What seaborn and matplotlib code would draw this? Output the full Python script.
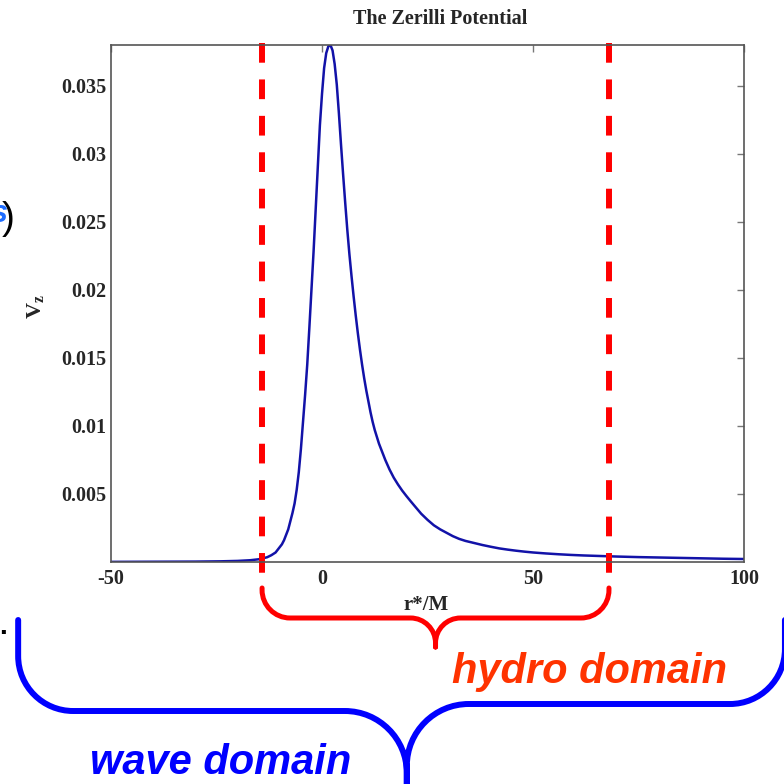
import pandas as pd
import matplotlib
matplotlib.use("Agg")
import matplotlib.pyplot as plt
import seaborn as sns
from matplotlib.path import Path
from matplotlib.patches import PathPatch
from matplotlib import transforms

# -------------------------------
# Data
# -------------------------------
r_star = [-50, -40, -30, -24, -20, -17, -15, -14, -13, -12, -11, -10.5, -10,
          -9.5, -9, -8.5, -8, -7.5, -7, -6.5, -6, -5.5,
          -5, -4.5, -4, -3.5, -3, -2.5, -2, -1.5, -1, -0.5, 0, 0.5, 1, 1.5,
          2, 2.5, 3, 3.5, 4, 4.5, 5, 5.5, 6, 6.5, 7, 7.5, 8, 8.5, 9, 9.5,
          10, 10.5, 11, 11.5, 12, 12.5, 13, 13.5, 14, 15, 16, 17, 18, 19,
          20, 21, 22, 23.5, 25, 26.5, 28, 29.5, 31, 32.5, 34, 36, 38, 40,
          42, 44, 46, 48, 50, 53, 56, 59, 62, 66, 70, 75, 80, 85, 90, 95,
          100]
v_z = [0.00001, 0.00002, 0.00003, 0.00005, 0.00008, 0.00013, 0.0002,
       0.00027, 0.00035, 0.0005, 0.0007, 0.0009, 0.0011,
       0.0013, 0.0016, 0.0020, 0.0024, 0.0030, 0.0036, 0.0043, 0.0053,
       0.0066,
       0.0083, 0.0103, 0.0123, 0.0145, 0.0172, 0.0200, 0.0228, 0.0259,
       0.0290, 0.0321, 0.0344, 0.0363, 0.0374, 0.0379,
       0.0380, 0.0376, 0.0366, 0.0351, 0.0330, 0.0307, 0.0285, 0.0264,
       0.0244, 0.0226, 0.0210, 0.0195, 0.0181, 0.0168, 0.0156, 0.0145,
       0.0135, 0.0126, 0.0118, 0.0110, 0.0103, 0.0097, 0.0092, 0.0087,
       0.0083, 0.0075, 0.0068, 0.0062, 0.0057, 0.00525,
       0.00485, 0.00447, 0.0041, 0.00355, 0.0031, 0.0027, 0.0024, 0.00215,
       0.0019, 0.0017, 0.00155, 0.0014, 0.00125, 0.00112,
       0.0010, 0.00091, 0.00083, 0.00076, 0.0007, 0.00063, 0.00057,
       0.00052, 0.00048, 0.00044, 0.0004, 0.00036, 0.00033, 0.0003,
       0.00027, 0.00024, 0.00022]

x_ticks = [-50, 0, 50, 100]
x_tick_labels = ["-50", "0", "50", "100"]
y_ticks = [0.005, 0.01, 0.015, 0.02, 0.025, 0.03, 0.035]
y_tick_labels = ["0.005", "0.01", "0.015", "0.02", "0.025", "0.03", "0.035"]

hydro_domain = [-14.2, 68.0]
hydro_tip = 26.9
wave_domain = [-72.0, 109.7]
wave_tip = 20.1

# -------------------------------
# Setup
# -------------------------------
sns.set_style("white")
plt.rcParams["font.family"] = ["Liberation Serif", "DejaVu Serif"]
plt.rcParams["mathtext.fontset"] = "custom"
plt.rcParams["mathtext.rm"] = "Liberation Serif:bold"
plt.rcParams["mathtext.bf"] = "Liberation Serif:bold"
plt.rcParams["mathtext.it"] = "Liberation Serif:bold"

W = H = 784
fig = plt.figure(figsize=(7.84, 7.84), dpi=100)
ax = fig.add_axes([111 / W, 1 - 562 / H, (744 - 111) / W, (562 - 45) / H])

# -------------------------------
# Potential curve
# -------------------------------
df = pd.DataFrame({"r": r_star, "V": v_z})
sns.lineplot(data=df, x="r", y="V", ax=ax, color="#1212a8", lw=1.8,
             estimator=None, sort=False)

ax.set_xlim(-50, 100)
ax.set_ylim(0, 0.038)
ax.set_xticks(x_ticks)
ax.set_xticklabels(x_tick_labels, fontsize=14.5, fontweight="bold")
ax.set_yticks(y_ticks)
ax.set_yticklabels(y_tick_labels, fontsize=14.5, fontweight="bold")
ax.set_xlabel("")
ax.set_ylabel("")
ax.tick_params(axis="both", direction="in", length=5, width=1, color="#777777",
               top=True, right=True)
ax.tick_params(axis="x", pad=5)
ax.tick_params(axis="y", pad=3.5)
for sp in ax.spines.values():
    sp.set_color("#555555")
    sp.set_linewidth(1.2)

# red dashed domain boundaries
trans = transforms.blended_transform_factory(ax.transData, ax.transAxes)
y_top_ax = (562 - 42.7) / 517
y_bot_ax = (562 - 585) / 517
for xb in hydro_domain:
    ax.plot([xb, xb], [y_top_ax, y_bot_ax], transform=trans, color="#ff0000",
            lw=4.3, dashes=(3.3, 2.8), clip_on=False, dash_capstyle="butt")

# -------------------------------
# Curly braces (pixel space)
# -------------------------------
def brace(xl, xr, xc, y_top, yh_l, yh_r, r_end, r_mid, y_cusp):
    k = 0.5523
    pts = [
        (Path.MOVETO, (xl, y_top)),
        (Path.LINETO, (xl, yh_l - r_end)),
        (Path.CURVE4, (xl, yh_l - r_end + k * r_end)),
        (Path.CURVE4, (xl + r_end - k * r_end, yh_l)),
        (Path.CURVE4, (xl + r_end, yh_l)),
        (Path.LINETO, (xc - r_mid, yh_l)),
        (Path.CURVE4, (xc - r_mid + k * r_mid, yh_l)),
        (Path.CURVE4, (xc, yh_l + r_mid - k * r_mid)),
        (Path.CURVE4, (xc, yh_l + r_mid)),
        (Path.LINETO, (xc, y_cusp)),
        (Path.MOVETO, (xc, y_cusp)),
        (Path.LINETO, (xc, yh_r + r_mid)),
        (Path.CURVE4, (xc, yh_r + r_mid - k * r_mid)),
        (Path.CURVE4, (xc + r_mid - k * r_mid, yh_r)),
        (Path.CURVE4, (xc + r_mid, yh_r)),
        (Path.LINETO, (xr - r_end, yh_r)),
        (Path.CURVE4, (xr - r_end + k * r_end, yh_r)),
        (Path.CURVE4, (xr, yh_r - r_end + k * r_end)),
        (Path.CURVE4, (xr, yh_r - r_end)),
        (Path.LINETO, (xr, y_top)),
    ]
    codes = [c for c, _ in pts]
    verts = [(x, H - y) for _, (x, y) in pts]
    return Path(verts, codes)


def px(x):
    return ax.transData.transform((x, 0))[0]


red_path = brace(px(hydro_domain[0]), px(hydro_domain[1]), px(hydro_tip),
                 588, 618, 618, 28, 25, 647)
fig.add_artist(PathPatch(red_path, fill=False, edgecolor="#ff0000", lw=3.6,
                         capstyle="round", joinstyle="round",
                         transform=transforms.IdentityTransform()))

blue_path = brace(px(wave_domain[0]), px(wave_domain[1]), px(wave_tip),
                  620, 711, 704, 55, 62, 800)
fig.add_artist(PathPatch(blue_path, fill=False, edgecolor="#0000ff", lw=4.3,
                         capstyle="round", joinstyle="round",
                         transform=transforms.IdentityTransform()))

# -------------------------------
# Texts
# -------------------------------
fig.text(440 / W, 1 - 24 / H, "The Zerilli Potential", ha="center",
         va="baseline", fontsize=14.5, fontweight="bold")
fig.text(426 / W, 1 - 610 / H, "r*/M", ha="center", va="baseline",
         fontsize=15, fontweight="bold")
fig.text(36 / W, 1 - 307 / H, r"$\mathbf{V}_{\mathbf{z}}$", ha="center",
         va="center", rotation=90, fontsize=16)

fig.text(590 / W, 1 - 683 / H, "hydro domain", ha="center", va="baseline",
         fontsize=30, fontweight="bold", style="italic", color="#ff3300",
         family="Liberation Sans")
fig.text(221 / W, 1 - 774 / H, "wave domain", ha="center", va="baseline",
         fontsize=30, fontweight="bold", style="italic", color="#0000ff",
         family="Liberation Sans")

# cut-off fragments at the left edge of the original slide
fig.text(8 / W, 1 - 219 / H, ")", ha="center", va="center", fontsize=28,
         color="black", family="Liberation Sans")
fig.text(-1 / W, 1 - 214 / H, "s", ha="center", va="center", fontsize=22,
         fontweight="bold", style="italic", color="#1e6cff",
         family="Liberation Sans")
fig.text(3 / W, 1 - 634 / H, ".", ha="center", va="baseline", fontsize=20,
         fontweight="bold", color="black", family="Liberation Sans")

fig.savefig("out.png", dpi=100)
